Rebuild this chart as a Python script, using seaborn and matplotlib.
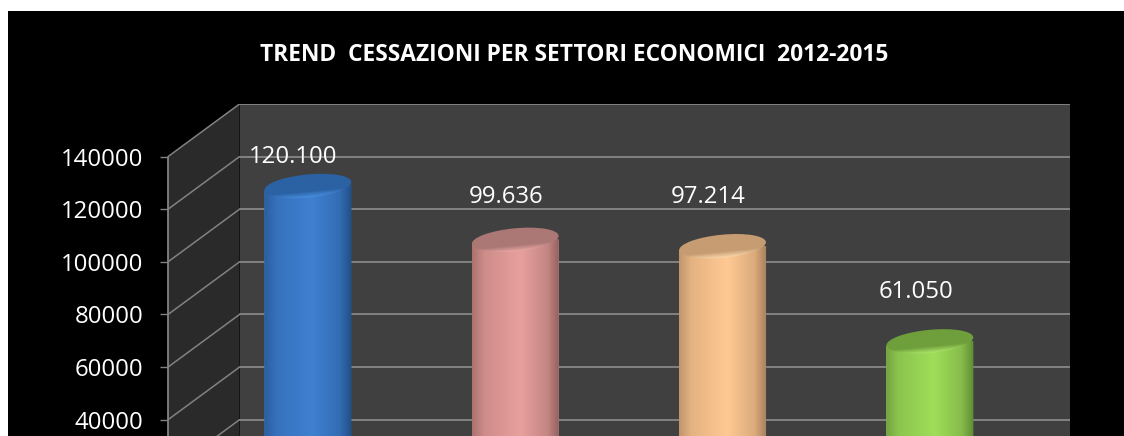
import numpy as np
import pandas as pd
import matplotlib
matplotlib.use("Agg")
import matplotlib.pyplot as plt
from matplotlib.colors import LinearSegmentedColormap, to_rgb
from matplotlib.patches import Ellipse, Polygon, Rectangle
from matplotlib.transforms import Affine2D, IdentityTransform
import seaborn as sns

title = "TREND  CESSAZIONI PER SETTORI ECONOMICI  2012-2015"
categories = ["Settore 1", "Settore 2", "Settore 3", "Settore 4"]
values = [120100, 99636, 97214, 61050]
value_labels = ["120.100", "99.636", "97.214", "61.050"]
y_ticks = [40000, 60000, 80000, 100000, 120000, 140000]
hidden_tick = 20000   # its back-wall line and diagonal are still visible

mid_colors = ["#3f80d2", "#e8a09d", "#ffc993", "#9fde59"]
edge_colors = ["#214f88", "#8f5f5c", "#a57f5a", "#5f8a35"]
cap_colors = ["#2b62a4", "#ab7875", "#c69c72", "#6f9f3c"]
rim_colors = ["#4d94e6", "#f5b0ac", "#ffdcb0", "#b0ea6c"]
label_gaps = [29, 43, 49, 49]        # px above the cap centre
label_shifts = [-15, -9, -14, -14]   # px horizontally from bar centre

W, H = 1124, 436
DEPTH = 20000
PX_LEFT, PX_BACK, PX_RIGHT, PX_TOP = 168, 239.5, 1070, 104
BAR_LIFT = 23
TILT = 5.5


def blend(a, b, t):
    a, b = np.array(to_rgb(a)), np.array(to_rgb(b))
    return tuple(a + (b - a) * t)


sns.set_theme(style="white")
plt.rcParams["font.family"] = ["Open Sans", "DejaVu Sans"]

fig = plt.figure(figsize=(W / 100, H / 100), dpi=100, facecolor="white")
fig.add_artist(Rectangle((8 / W, 0), 1, (H - 11) / H, transform=fig.transFigure,
                         facecolor="black", edgecolor="none", zorder=-5))
ax = fig.add_axes([PX_LEFT / W, 0, (PX_RIGHT - PX_LEFT) / W, (H - PX_TOP) / H])
ax.patch.set_alpha(0)

df = pd.DataFrame({"cat": categories, "val": values})
sns.barplot(data=df, x="cat", y="val", hue="cat", palette=mid_colors, width=0.42,
            saturation=1, legend=False, ax=ax, zorder=3)
bars = list(ax.patches)

xlim = (-0.675, 3.676)
ylim = (33815, 160000)
ax.set_xticks([])
ax.set_yticks(y_ticks)
ax.set_xlim(*xlim)
ax.set_ylim(*ylim)
xback = xlim[0] + (PX_BACK - PX_LEFT) / (PX_RIGHT - PX_LEFT) * (xlim[1] - xlim[0])

# walls
ax.fill([xlim[0], xback, xback, xlim[0]],
        [y_ticks[-1], y_ticks[-1] + DEPTH, ylim[0], ylim[0]],
        color="#2a2a2a", lw=0, zorder=0)
ax.fill([xback, xlim[1], xlim[1], xback],
        [y_ticks[-1] + DEPTH, y_ticks[-1] + DEPTH, ylim[0], ylim[0]],
        color="#404040", lw=0, zorder=0)

# grid
GRID = "#828282"
for v in [hidden_tick] + y_ticks:
    ax.plot([xlim[0], xback], [v, v + DEPTH], color=GRID, lw=1.1, zorder=1)
    ax.plot([xback, xlim[1]], [v + DEPTH, v + DEPTH], color=GRID, lw=1.4, zorder=1)
ax.plot([xlim[0], xlim[0]], [ylim[0], y_ticks[-1]], color=GRID, lw=1.3, zorder=1,
        clip_on=False)
ax.set_xlim(*xlim)
ax.set_ylim(*ylim)

lift = Affine2D().translate(0, BAR_LIFT)
ident = IdentityTransform()
for i, bar in enumerate(bars):
    tr = ax.transData + lift
    bar.set_transform(tr)
    bar.set_edgecolor("none")
    x0, w, top = bar.get_x(), bar.get_width(), bar.get_height()
    cx, cy = tr.transform((x0 + w / 2, top))
    wpx = tr.transform((x0 + w, top))[0] - tr.transform((x0, top))[0]
    hw = wpx / 2
    dy = hw * np.tan(np.radians(TILT))

    # body: clipped to the slope of the cap so no square corner shows
    body_clip = Polygon([(cx - hw, cy - dy), (cx + hw, cy + dy), (cx + hw, -50), (cx - hw, -50)],
                        closed=True, transform=ident)
    bar.set_clip_path(body_clip)
    cmap = LinearSegmentedColormap.from_list(f"g{i}", [
        (0, blend(edge_colors[i], mid_colors[i], 0.3)),
        (0.14, blend(edge_colors[i], mid_colors[i], 0.7)),
        (0.55, mid_colors[i]),
        (0.86, blend(edge_colors[i], mid_colors[i], 0.6)),
        (1, edge_colors[i])])
    im = ax.imshow(np.linspace(0, 1, 256)[None, :], cmap=cmap,
                   extent=(x0, x0 + w, 0, top), aspect="auto", zorder=3.2, transform=tr,
                   interpolation="bilinear")
    im.set_clip_path(body_clip)

    # cylinder cap: vertical shading inside a tilted ellipse
    cap_h = 23
    cap = Ellipse((cx, cy), wpx, cap_h, angle=TILT, transform=ident, facecolor="none",
                  edgecolor="none", zorder=4)
    ax.add_patch(cap)
    cap_map = LinearSegmentedColormap.from_list(f"c{i}", [
        (0, rim_colors[i]),
        (0.10, blend(rim_colors[i], cap_colors[i], 0.35)),
        (0.28, cap_colors[i]),
        (1, cap_colors[i])])
    cim = ax.imshow(np.linspace(0, 1, 64)[:, None], cmap=cap_map, origin="lower",
                    extent=(cx - hw - 4, cx + hw + 4, cy - cap_h / 2 - 1, cy + cap_h / 2 + 1),
                    aspect="auto", zorder=4.1, interpolation="bilinear",
                    transform=Affine2D().rotate_deg_around(cx, cy, TILT))
    cim.set_clip_path(cap)
    ax.set_xlim(*xlim)
    ax.set_ylim(*ylim)

    ax.text(cx + label_shifts[i], cy + label_gaps[i], value_labels[i], transform=ident,
            ha="center", va="center", color="white", fontsize=17.3, zorder=6)

ax.set_aspect("auto")

# axes furniture
for s in ax.spines.values():
    s.set_visible(False)
ax.set_xlabel("")
ax.set_ylabel("")
ax.set_yticklabels([str(v) for v in y_ticks])
ax.tick_params(axis="y", left=True, length=5.5, width=1, color=GRID, pad=12,
               labelcolor="white", labelsize=17.3)
ax.grid(False)
ax.set_xlim(*xlim)
ax.set_ylim(*ylim)

fig.text(574 / W, 1 - 55 / H, title, ha="center", va="center", color="white",
         fontsize=16.4, fontweight="bold")

fig.savefig("out.png", dpi=100, facecolor=fig.get_facecolor())
